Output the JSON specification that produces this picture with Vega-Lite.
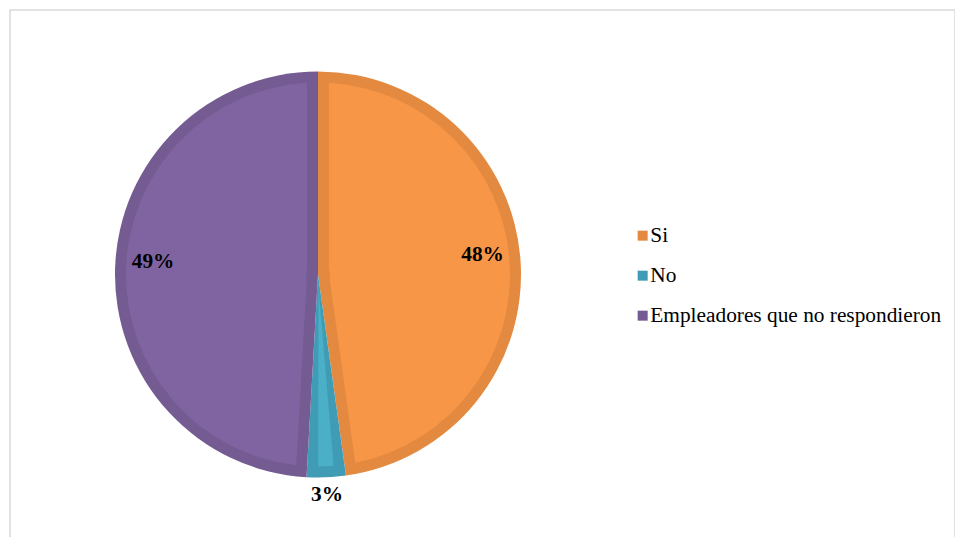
{
  "$schema": "https://vega.github.io/schema/vega-lite/v6.json",
  "width": 945,
  "height": 540,
  "autosize": {"type": "none"},
  "padding": {"left": 10, "top": 10, "right": 0, "bottom": 0},
  "background": "white",
  "view": {"stroke": "#D9D9D9", "strokeWidth": 1.5, "cursor": "default"},
  "config": {"view": {"stroke": "#D9D9D9", "strokeWidth": 1.5}},
  "data": {
    "values": [
      {"cat": "Si", "value": 0.478, "ord": 1},
      {"cat": "No", "value": 0.031, "ord": 2},
      {"cat": "Empleadores que no respondieron", "value": 0.491, "ord": 3}
    ]
  },
  "encoding": {
    "theta": {"field": "value", "type": "quantitative", "stack": true},
    "order": {"field": "ord", "type": "quantitative"}
  },
  "layer": [
    {
      "mark": {"type": "arc", "x": 308, "y": 264.5, "outerRadius": 203},
      "encoding": {
        "color": {
          "field": "cat",
          "type": "nominal",
          "scale": {"domain": ["Si", "No", "Empleadores que no respondieron"], "range": ["#E38A40", "#3F9CB4", "#745B92"]},
          "legend": {
            "title": null,
            "orient": "none",
            "legendX": 622,
            "legendY": 215,
            "padding": 0,
            "symbolType": "square",
            "symbolSize": 100,
            "symbolStrokeWidth": 0,
            "labelFont": "'Liberation Serif', 'Times New Roman', serif",
            "labelFontSize": 21.33,
            "labelColor": "black",
            "labelLimit": 400,
            "labelOffset": -3,
            "rowPadding": 18
          }
        }
      }
    },
    {
      "mark": {"type": "arc", "x": 308, "y": 264.5, "outerRadius": 192, "innerRadius": 12, "padAngle": 0.114},
      "encoding": {
        "fill": {
          "field": "cat",
          "type": "nominal",
          "scale": {"domain": ["Si", "No", "Empleadores que no respondieron"], "range": ["#F79646", "#4BAFC8", "#8064A2"]},
          "legend": null
        }
      }
    },
    {
      "mark": {"type": "text", "x": 308, "y": 264.5, "radius": 165, "dy": -8, "font": "'Liberation Serif', 'Times New Roman', serif", "fontSize": 21.33, "fontWeight": "bold", "color": "black"},
      "encoding": {
        "detail": {"field": "cat", "type": "nominal"},
        "text": {"condition": {"test": "datum.cat === 'No'", "value": ""}, "field": "value", "type": "quantitative", "format": ".0%"}
      }
    },
    {
      "mark": {"type": "text", "x": 308, "y": 264.5, "radius": 221, "font": "'Liberation Serif', 'Times New Roman', serif", "fontSize": 21.33, "fontWeight": "bold", "color": "black"},
      "encoding": {
        "detail": {"field": "cat", "type": "nominal"},
        "text": {"condition": {"test": "datum.cat !== 'No'", "value": ""}, "field": "value", "type": "quantitative", "format": ".0%"}
      }
    }
  ]
}
